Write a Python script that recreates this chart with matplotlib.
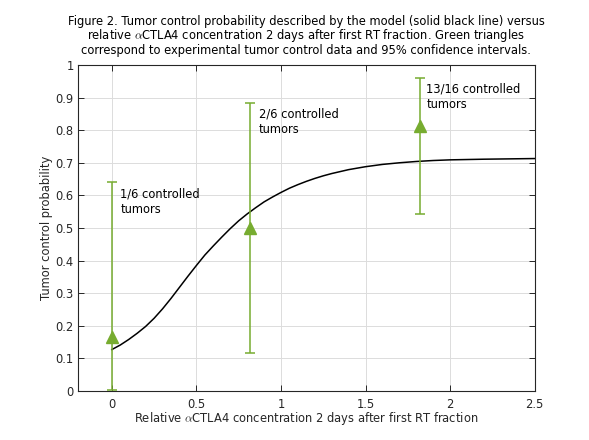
import matplotlib
matplotlib.use('Agg')
import matplotlib.pyplot as plt

# experimental points (green triangles) with 95% CI
conc = [0.0, 0.817, 1.82]
tcp = [0.1667, 0.5, 0.8125]
ci_low = [0.004, 0.118, 0.544]
ci_high = [0.641, 0.882, 0.960]
labels = ['1/6 controlled\ntumors', '2/6 controlled\ntumors', '13/16 controlled\ntumors']
label_x = [0.05, 0.87, 1.86]
label_y = [0.625, 0.87, 0.945]

# model curve
model_x = [0.0, 0.05, 0.1, 0.15, 0.2, 0.25, 0.3, 0.35, 0.4, 0.45, 0.5, 0.55,
           0.6, 0.65, 0.7, 0.75, 0.8, 0.85, 0.9, 0.95, 1.0, 1.05, 1.1, 1.15,
           1.2, 1.25, 1.3, 1.4, 1.5, 1.6, 1.7, 1.8, 1.9, 2.0, 2.2, 2.5]
model_y = [0.127, 0.141, 0.158, 0.177, 0.198, 0.223, 0.252, 0.284, 0.318, 0.352,
           0.385, 0.417, 0.445, 0.472, 0.498, 0.522, 0.543, 0.562, 0.580, 0.595,
           0.609, 0.622, 0.633, 0.643, 0.652, 0.660, 0.667, 0.679, 0.688, 0.695,
           0.700, 0.704, 0.707, 0.709, 0.711, 0.713]

green = '#77AC30'
txt = '#262626'
fs = 8.3

plt.rcParams['mathtext.fontset'] = 'cm'
fig = plt.figure(figsize=(5.89, 4.40), dpi=100)
ax = fig.add_axes([0.1324, 0.1114, 0.7754, 0.7409])

ax.plot(model_x, model_y, color='black', lw=1.1, zorder=3)

yerr = [[t - l for t, l in zip(tcp, ci_low)], [h - t for t, h in zip(tcp, ci_high)]]
ax.errorbar(conc, tcp, yerr=yerr, fmt='^', color=green, ms=9, capsize=3.5,
            elinewidth=1.1, capthick=1.1, zorder=4, clip_on=False)

for lx, ly, s in zip(label_x, label_y, labels):
    ax.text(lx, ly, s, fontsize=fs, va='top', ha='left', color='black',
            linespacing=1.25)

ax.set_xlim(-0.2, 2.5)
ax.set_ylim(0, 1)
ax.set_xticks([0, 0.5, 1, 1.5, 2, 2.5])
ax.set_xticklabels(['0', '0.5', '1', '1.5', '2', '2.5'])
ax.set_yticks([i / 10 for i in range(11)])
ax.set_yticklabels(['0', '0.1', '0.2', '0.3', '0.4', '0.5', '0.6', '0.7', '0.8', '0.9', '1'])
ax.grid(True, color='#dcdcdc', lw=0.7)
ax.set_axisbelow(True)
ax.tick_params(direction='in', top=True, right=True, length=4, width=0.7,
               labelsize=fs, labelcolor=txt, colors=txt, pad=3)
ax.tick_params(axis='x', pad=5)
for sp in ax.spines.values():
    sp.set_linewidth(0.8)
    sp.set_color(txt)

ax.set_xlabel(r'Relative $\alpha$CTLA4 concentration 2 days after first RT fraction',
              fontsize=fs, color=txt, labelpad=-1)
ax.set_ylabel('Tumor control probability', fontsize=fs, color=txt, labelpad=2)
ax.set_title('Figure 2. Tumor control probability described by the model (solid black line) versus\n'
             r'relative $\alpha$CTLA4 concentration 2 days after first RT fraction. Green triangles'
             '\ncorrespond to experimental tumor control data and 95% confidence intervals.',
             fontsize=fs, color='black', linespacing=0.95, pad=8)

fig.savefig('out.png', dpi=100)
